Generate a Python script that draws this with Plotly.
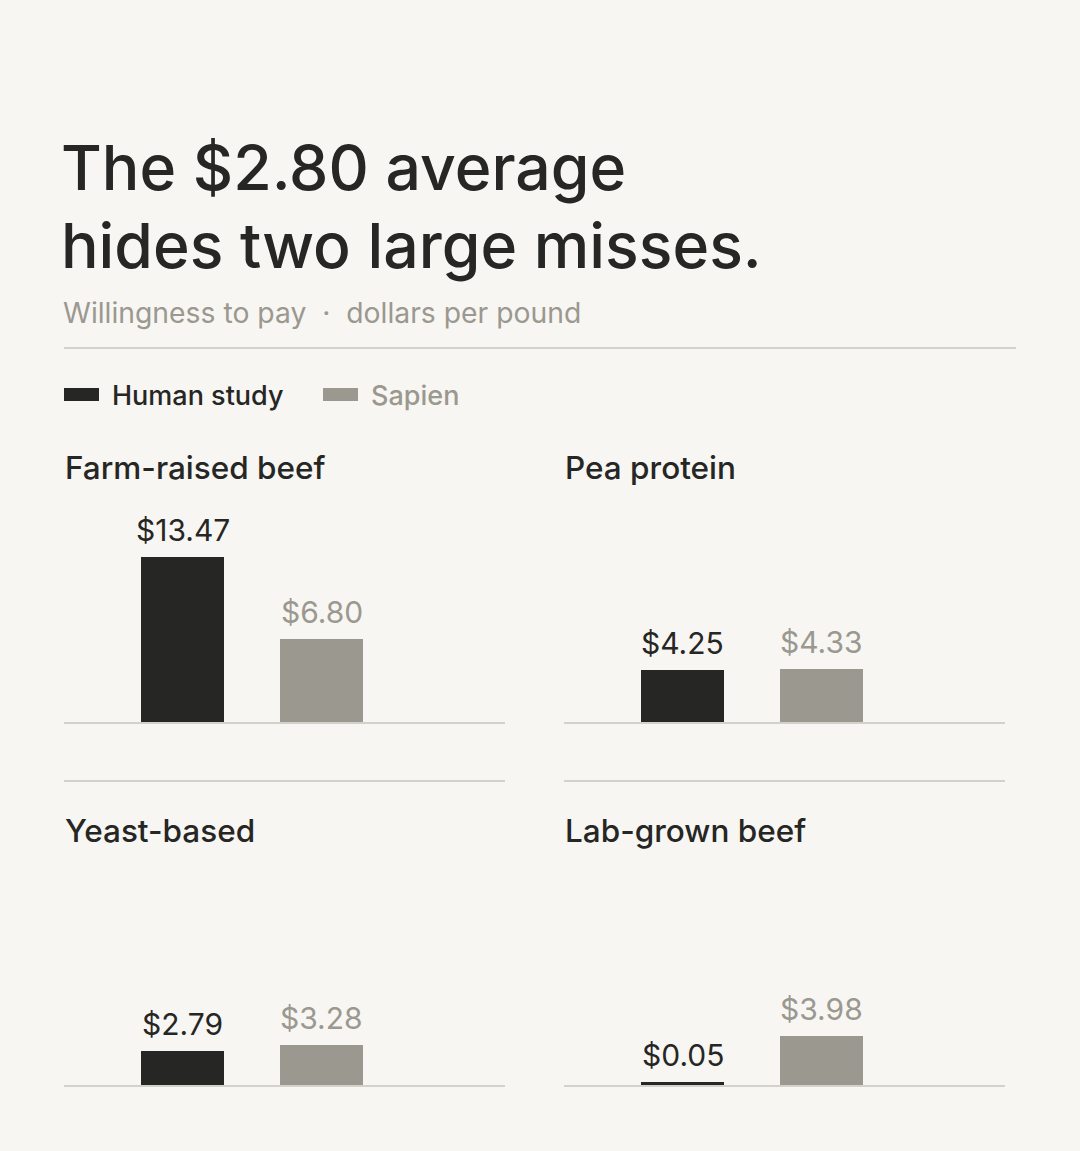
import plotly.graph_objects as go

products = ["Farm-raised beef", "Pea protein", "Yeast-based", "Lab-grown beef"]
series = ["Human study", "Sapien"]
human = [13.47, 4.25, 2.79, 0.05]
sapien = [6.80, 4.33, 3.28, 3.98]

W, H = 1080, 1151
BG = "#f7f6f2"
DARK = "#262624"
GREY = "#9b9890"
RULE = "#d3d1cb"
FONT = "Inter"

def px_x(x):
    return x / W

def px_y(y):
    return 1 - y / H

# panel boxes in pixels: (left, right, top, baseline)
panels = [(64, 505, 490, 722), (564, 1005, 490, 722),
          (64, 505, 853, 1085), (564, 1005, 853, 1085)]
title_y = [467, 467, 830, 830]

fig = go.Figure()
annotations = []
shapes = []

for i, name in enumerate(products):
    n = "" if i == 0 else str(i + 1)
    vals = [human[i], sapien[i]]
    # keep tiny values visible as a thin sliver
    shown = [max(v, 0.25) for v in vals]
    fig.add_trace(go.Bar(
        x=series, y=shown, xaxis="x" + n, yaxis="y" + n,
        marker=dict(color=[DARK, GREY], line=dict(width=0)),
        width=0.6, showlegend=False, hoverinfo="skip",
    ))
    left, right, top, base = panels[i]
    fig.layout["xaxis" + n] = dict(
        domain=[px_x(left), px_x(right)], anchor="y" + n,
        range=[-0.8525, 2.32], showticklabels=False, ticks="",
        showgrid=False, zeroline=False, showline=True,
        linecolor=RULE, linewidth=2, fixedrange=True,
    )
    fig.layout["yaxis" + n] = dict(
        domain=[px_y(base), px_y(top)], anchor="x" + n,
        range=[0, 18.94], visible=False, fixedrange=True,
    )
    for s, v, sv, c in zip(series, vals, shown, [DARK, GREY]):
        annotations.append(dict(
            x=s, y=sv, xref="x" + n, yref="y" + n, text="$%.2f" % v,
            showarrow=False, yanchor="bottom", yshift=7,
            font=dict(family=FONT, size=30, color=c),
        ))
    annotations.append(dict(
        x=px_x(left - 1), y=px_y(title_y[i]), xref="paper", yref="paper", text=name,
        showarrow=False, xanchor="left", yanchor="middle",
        font=dict(family=FONT, size=31.5, color=DARK, weight=500),
    ))
    if i >= 2:
        shapes.append(dict(type="line", xref="paper", yref="paper",
                           x0=px_x(left), x1=px_x(right), y0=px_y(781), y1=px_y(781),
                           line=dict(color=RULE, width=2)))

# title and subtitle
annotations.append(dict(x=px_x(59), y=px_y(167), xref="paper", yref="paper",
                        text="The $2.80 average", showarrow=False,
                        xanchor="left", yanchor="middle",
                        font=dict(family=FONT, size=62.5, color=DARK, weight=500)))
annotations.append(dict(x=px_x(59), y=px_y(245), xref="paper", yref="paper",
                        text="hides two large misses.", showarrow=False,
                        xanchor="left", yanchor="middle",
                        font=dict(family=FONT, size=62.5, color=DARK, weight=500)))
annotations.append(dict(x=px_x(61), y=px_y(313), xref="paper", yref="paper",
                        text="Willingness to pay  \u00b7  dollars per pound", showarrow=False,
                        xanchor="left", yanchor="middle",
                        font=dict(family=FONT, size=28.3, color=GREY)))
shapes.append(dict(type="line", xref="paper", yref="paper",
                   x0=px_x(64), x1=px_x(1016), y0=px_y(348), y1=px_y(348),
                   line=dict(color=RULE, width=2)))

# legend drawn by hand
for (x0, label, c) in [(64, series[0], DARK), (323, series[1], GREY)]:
    shapes.append(dict(type="rect", xref="paper", yref="paper",
                       x0=px_x(x0), x1=px_x(x0 + 35), y0=px_y(401), y1=px_y(388),
                       fillcolor=c, line=dict(width=0)))
    annotations.append(dict(x=px_x(x0 + 46), y=px_y(395), xref="paper", yref="paper",
                            text=label, showarrow=False, xanchor="left", yanchor="middle",
                            font=dict(family=FONT, size=27, color=c, weight=500)))

fig.update_layout(
    width=W, height=H, margin=dict(l=0, r=0, t=0, b=0),
    paper_bgcolor=BG, plot_bgcolor=BG,
    annotations=annotations, shapes=shapes, bargap=0,
)

# drop the default page margin so the figure sits at the window corner
fig.write_html("out.html", config={"displayModeBar": False},
               post_script="document.body.style.margin='0';"
                           "document.body.style.background='" + BG + "';")
